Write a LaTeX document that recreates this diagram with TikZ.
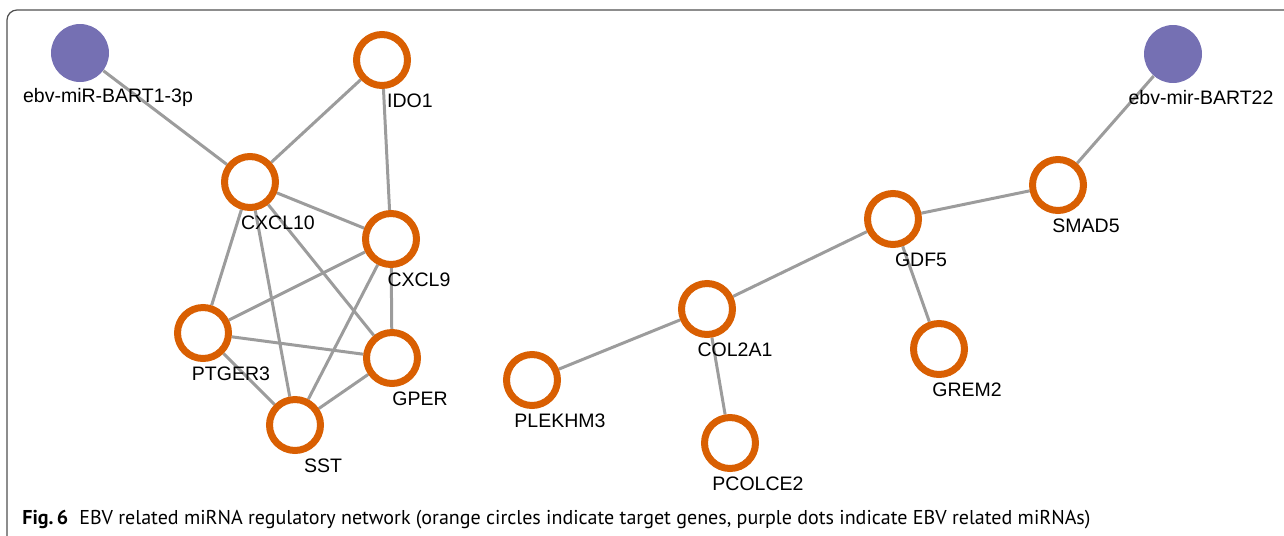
\documentclass[tikz,border=0pt]{standalone}
\usepackage{fontspec}
\setmainfont{Liberation Sans}
\newfontfamily\capfont{PT Sans}
\usetikzlibrary{backgrounds}
\definecolor{genorange}{HTML}{D95F02}
\definecolor{mirpurple}{HTML}{7570B3}
\definecolor{edgegray}{HTML}{9C9C9C}
\definecolor{framegray}{HTML}{505050}

\begin{document}
\begin{tikzpicture}[x=0.02cm, y=-0.02cm,
    lbl/.style={font=\fontsize{11.1}{13}\selectfont, inner sep=0pt, xshift=0.56cm, yshift=-0.82cm},
    gene/.style={circle, draw=genorange, line width=0.14cm, minimum size=1.02cm, fill=white, label={[lbl]center:#1}},
    mirna/.style={circle, fill=mirpurple, minimum size=1.16cm, inner sep=0pt, label={[lbl, yshift=-0.06cm]center:#1}},
    edge/.style={draw=edgegray, line width=0.06cm}]
    \useasboundingbox (0,0) rectangle (1284,535);

    % Marco
    \draw[framegray, line width=0.025cm, rounded corners=0.2cm] (1290,10) -- (7,10) -- (7,545);

    % Nodos miRNA
    \node [mirna=ebv-miR-BART1-3p] (bart1) at (80,53) {};
    \node [mirna=ebv-mir-BART22] (bart22) at (1173,54) {};

    % Genes, grupo izquierdo
    \node [gene=IDO1] (ido1) at (382,60) {};
    \node [gene=CXCL10] (cxcl10) at (250,182) {};
    \node [gene=CXCL9] (cxcl9) at (391,239) {};
    \node [gene=PTGER3] (ptger3) at (203,333) {};
    \node [gene=GPER] (gper) at (392,358) {};
    \node [gene=SST] (sst) at (295,425) {};

    % Genes, grupo derecho
    \node [gene=SMAD5] (smad5) at (1058,185) {};
    \node [gene=GDF5] (gdf5) at (893,219) {};
    \node [gene=COL2A1] (col2a1) at (707,309) {};
    \node [gene=PLEKHM3] (plekhm3) at (532,380) {};
    \node [gene=PCOLCE2] (pcolce2) at (730,443) {};
    \node [gene=GREM2] (grem2) at (939,349) {};

    % Aristas (debajo de nodos y etiquetas)
    \begin{scope}[on background layer]
    \draw[edge] (bart1) -- (cxcl10);
    \draw[edge] (cxcl10) -- (ido1);
    \draw[edge] (ido1) -- (cxcl9);
    \draw[edge] (cxcl10) -- (cxcl9);
    \draw[edge] (cxcl10) -- (ptger3);
    \draw[edge] (cxcl10) -- (sst);
    \draw[edge] (cxcl10) -- (gper);
    \draw[edge] (cxcl9) -- (ptger3);
    \draw[edge] (cxcl9) -- (sst);
    \draw[edge] (cxcl9) -- (gper);
    \draw[edge] (ptger3) -- (gper);
    \draw[edge] (ptger3) -- (sst);
    \draw[edge] (gper) -- (sst);
    \draw[edge] (bart22) -- (smad5);
    \draw[edge] (smad5) -- (gdf5);
    \draw[edge] (gdf5) -- (col2a1);
    \draw[edge] (gdf5) -- (grem2);
    \draw[edge] (col2a1) -- (plekhm3);
    \draw[edge] (col2a1) -- (pcolce2);
    \end{scope}

    % Pie de figura
    \node [anchor=base west, inner sep=0pt, font=\capfont\fontsize{11.4}{13}\selectfont] (caption) at (22,524)
        {\textbf{Fig.\,6}\hspace{0.22cm}EBV related miRNA regulatory network (orange circles indicate target genes, purple dots indicate EBV related miRNAs)};
\end{tikzpicture}
\end{document}
